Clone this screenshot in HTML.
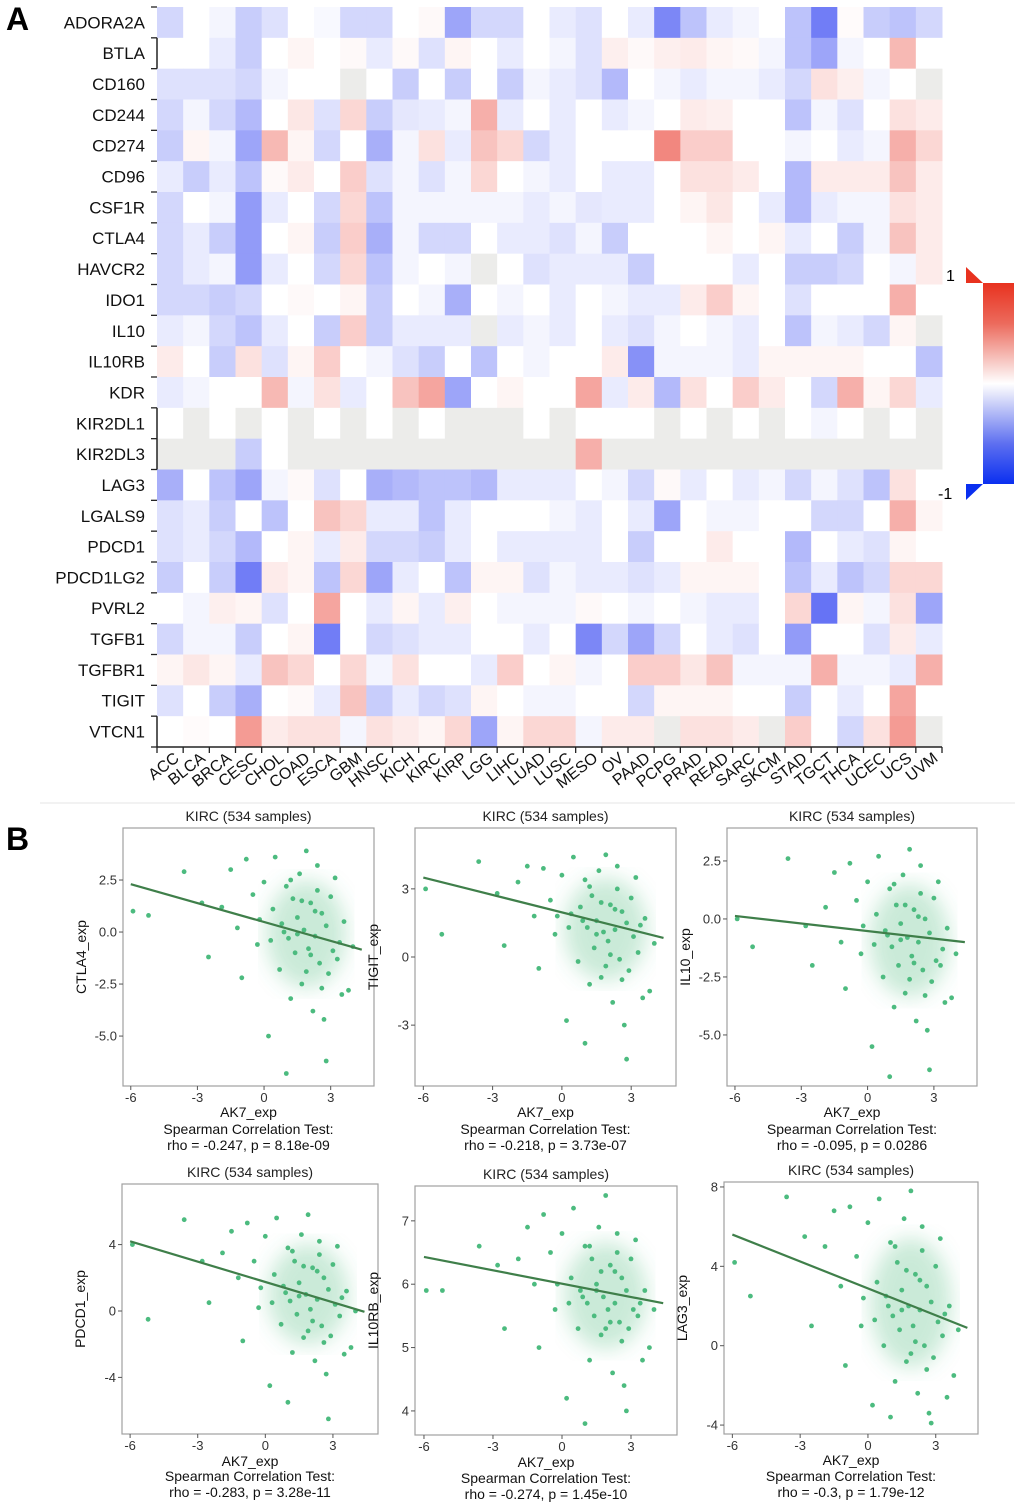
<!DOCTYPE html>
<html><head><meta charset="utf-8">
<style>
html,body{margin:0;padding:0;background:#fff;}
svg{display:block;font-family:"Liberation Sans",Arial,sans-serif;}
</style></head>
<body>
<svg id="fig" width="1020" height="1510" viewBox="0 0 1020 1510" xmlns="http://www.w3.org/2000/svg">
<defs>
<linearGradient id="cbar" x1="0" y1="0" x2="0" y2="1">
<stop offset="0" stop-color="#e8321f"/>
<stop offset="0.2" stop-color="#ec6a5c"/>
<stop offset="0.45" stop-color="#fbe6e4"/>
<stop offset="0.5" stop-color="#ffffff"/>
<stop offset="0.55" stop-color="#e6e8fb"/>
<stop offset="0.8" stop-color="#5d6ff0"/>
<stop offset="1" stop-color="#0a2ff0"/>
</linearGradient>
<filter id="blur"><feGaussianBlur stdDeviation="10"/></filter>
</defs>
<text x="6" y="30" font-size="32" font-weight="bold">A</text>
<text x="6" y="850" font-size="32" font-weight="bold">B</text>
<line x1="40" y1="803" x2="1015" y2="803" stroke="#eeeeee" stroke-width="1.5"/>
<g id="heat"></g>
<g>
<rect x="983" y="283" width="31" height="201" fill="url(#cbar)"/>
<polygon points="966,267 983,283 966,283" fill="#e8321f"/>
<polygon points="966,484 983,484 966,500" fill="#0a2ff0"/>
<text x="946" y="281" font-size="16">1</text>
<text x="938" y="499" font-size="16">-1</text>
</g>
<g id="scatters"></g>
</svg>
<script>
const NS='http://www.w3.org/2000/svg';
function mk(tag,attrs,parent){const e=document.createElementNS(NS,tag);for(const k in attrs)e.setAttribute(k,attrs[k]);parent.appendChild(e);return e;}

const genes=['ADORA2A','BTLA','CD160','CD244','CD274','CD96','CSF1R','CTLA4','HAVCR2','IDO1','IL10','IL10RB','KDR','KIR2DL1','KIR2DL3','LAG3','LGALS9','PDCD1','PDCD1LG2','PVRL2','TGFB1','TGFBR1','TIGIT','VTCN1'];
const cancers=['ACC','BLCA','BRCA','CESC','CHOL','COAD','ESCA','GBM','HNSC','KICH','KIRC','KIRP','LGG','LIHC','LUAD','LUSC','MESO','OV','PAAD','PCPG','PRAD','READ','SARC','SKCM','STAD','TGCT','THCA','UCEC','UCS','UVM'];
const N=null;
const heatValues=[
[-.2,0,-.05,-.25,-.15,0,-.03,-.2,-.2,0,.03,-.45,-.2,-.2,0,-.1,-.15,0,-.1,-.6,-.3,-.1,-.05,0,-.3,-.65,.02,-.25,-.3,-.2],
[0,0,-.1,-.25,0,.05,0,.03,-.1,.03,-.15,.05,0,-.1,0,-.05,-.15,.08,.03,.08,.1,.05,.03,-.05,-.3,-.45,-.05,0,.35,0],
[-.15,-.15,-.15,-.2,-.05,0,0,N,0,-.25,0,-.25,0,-.25,-.05,-.1,-.15,-.35,0,-.05,-.1,-.05,-.05,-.1,-.2,.15,.08,-.05,0,N],
[-.2,-.05,-.2,-.35,0,.12,-.15,.2,-.25,-.12,-.1,-.05,.4,-.1,0,-.1,0,-.1,-.05,0,.1,.08,0,0,-.3,-.05,-.15,0,.15,.1],
[-.25,.05,-.05,-.45,.35,.05,-.2,0,-.4,-.05,.15,-.1,.3,.2,-.2,-.1,0,0,0,.6,.25,.25,0,0,-.05,0,-.1,-.05,.4,.2],
[-.1,-.25,-.1,-.3,.03,.1,0,.25,-.15,-.05,-.15,-.05,.2,0,-.05,-.1,0,-.1,-.1,0,.15,.15,.1,0,-.35,.1,.1,.1,.3,.1],
[-.2,0,-.05,-.5,-.1,0,-.2,.2,-.3,-.05,-.05,-.05,-.05,-.05,-.1,-.05,-.12,-.1,-.1,0,.05,.12,0,-.1,-.35,-.1,-.05,-.05,.15,.1],
[-.2,-.1,-.25,-.5,0,.05,-.25,.25,-.4,-.05,-.2,-.2,0,-.1,-.1,-.15,-.05,-.25,0,0,0,.05,0,.05,-.1,0,-.25,-.05,.3,.1],
[-.2,-.1,-.05,-.5,-.1,0,-.2,.2,-.3,-.05,0,-.05,N,0,-.15,-.1,-.1,-.1,-.25,0,0,0,-.1,0,-.25,-.25,-.2,0,-.05,.1],
[-.2,-.2,-.25,-.2,0,.03,0,.05,-.25,0,-.05,-.4,0,-.05,0,-.1,0,-.05,-.1,-.1,.1,.25,.05,0,-.15,0,0,0,.4,0],
[-.1,-.05,-.2,-.3,-.1,0,-.25,.25,-.25,-.1,-.1,-.1,N,-.1,-.05,-.1,0,-.1,-.15,-.05,0,-.05,-.1,0,-.3,-.05,-.1,-.2,.05,N],
[.1,0,-.25,.15,-.15,.05,.25,0,-.05,-.15,-.25,0,-.3,0,-.05,0,0,.1,-.55,-.05,-.05,-.05,-.1,.05,.05,.05,.05,0,0,-.3],
[-.1,-.05,0,0,.35,-.05,.15,-.1,0,.3,.45,-.45,0,.05,0,0,.45,-.1,.1,-.35,.15,0,.25,.1,0,-.2,.4,.05,.2,-.1],
[0,N,0,N,0,N,0,N,0,N,0,N,N,N,0,N,0,0,0,N,0,N,0,N,0,-.05,0,N,0,N],
[N,N,N,-.25,0,N,N,N,N,N,N,N,N,N,N,N,.4,N,N,N,N,N,N,N,N,N,N,N,N,N],
[-.4,0,-.3,-.45,-.05,.03,-.15,0,-.4,-.35,-.3,-.3,-.35,-.1,-.1,-.1,0,-.05,-.2,.03,-.1,0,-.1,-.05,-.2,-.05,-.15,-.3,.15,0],
[-.15,-.1,-.25,0,-.3,0,.3,.2,-.1,-.1,-.3,-.1,0,0,0,-.05,-.1,0,-.1,-.45,0,-.05,-.05,0,0,-.2,-.2,0,.4,.05],
[-.15,-.1,-.2,-.35,0,.05,-.1,.1,-.2,-.2,-.25,-.1,0,-.1,-.1,-.1,-.1,0,-.25,0,0,.1,0,0,-.35,0,-.1,-.15,.05,0],
[-.25,0,-.25,-.65,.1,.05,-.3,.2,-.45,-.1,0,-.3,.05,.05,-.15,-.05,-.1,-.1,-.15,-.1,.05,.05,.05,0,-.3,-.1,-.3,-.2,.2,.2],
[0,-.05,.08,.05,-.15,0,.45,0,-.1,.05,-.1,.08,0,-.05,-.05,-.05,.03,0,-.05,0,-.05,-.1,-.1,0,.2,-.7,.05,-.05,.15,-.45],
[-.2,-.05,-.05,-.25,0,.05,-.65,0,-.2,-.15,-.1,-.1,0,0,-.1,0,-.6,-.2,-.45,-.2,0,-.1,-.15,0,-.5,0,0,-.15,.1,-.1],
[.05,.12,.05,-.1,.3,.2,0,.2,-.05,.15,0,0,-.1,.25,0,.05,-.05,0,.25,.25,.12,.3,-.05,-.05,-.05,.4,-.05,-.05,-.1,.4],
[-.15,0,-.25,-.4,0,.03,-.1,.3,-.25,-.1,-.2,-.15,.05,0,-.05,-.05,0,0,-.2,.05,.05,.05,0,0,-.25,0,-.1,0,.45,0],
[0,.02,0,.5,.1,.15,.15,-.05,.15,.1,.05,.2,-.45,.05,.2,.2,-.05,.1,.1,N,.15,.15,.1,N,.25,0,-.2,.15,.5,N]
];

const hx0=157,hx1=942,hy0=7,hy1=747;
const cw=(hx1-hx0)/cancers.length, rh=(hy1-hy0)/genes.length;
function colX(i){return hx0+i*cw;}
function rowY(j){return hy0+j*rh;}
function heatColor(v){
  if(v===null) return '#ececea';
  const t=Math.min(1,Math.abs(v)*0.95);
  const end=v>=0?[232,45,30]:[25,45,240];
  const c=end.map(e=>Math.round(255+(e-255)*t));
  return 'rgb('+c.join(',')+')';
}
const heat=document.getElementById('heat');
heatValues.forEach((row,j)=>{
  row.forEach((v,i)=>{
    const r=mk('rect',{x:colX(i).toFixed(2),y:rowY(j).toFixed(2),width:(cw+0.5).toFixed(2),height:(rh+0.5).toFixed(2),fill:heatColor(v)},heat);
    
    
  });
});
genes.forEach((g,j)=>{
  const cy=rowY(j)+rh/2;
  const t=mk('text',{x:145,y:(cy+6).toFixed(1),'font-size':17,'text-anchor':'end',fill:'#111'},heat);
  t.textContent=g;
  
  
});
for(let j=0;j<=genes.length;j++){
  const tk=mk('line',{x1:151,x2:157,y1:rowY(j),y2:rowY(j),stroke:'#222','stroke-width':1.3},heat);
  
  
}
[[1,2],[13,15],[23,24]].forEach(b=>{
  const ln=mk('line',{x1:157,x2:157,y1:rowY(b[0]),y2:rowY(b[1]),stroke:'#222','stroke-width':1.5},heat);
  
  
});
const xa=mk('line',{x1:hx0,x2:hx1,y1:hy1,y2:hy1,stroke:'#222','stroke-width':1.5},heat);


for(let i=0;i<=cancers.length;i++){
  const tk=mk('line',{x1:colX(i),x2:colX(i),y1:hy1,y2:hy1+6,stroke:'#222','stroke-width':1.3},heat);
  
  
}
cancers.forEach((c,i)=>{
  const x=colX(i)+cw/2+10, y=hy1+13;
  const t=mk('text',{x:x.toFixed(1),y:y,'font-size':16,'text-anchor':'end',transform:'rotate(-38 '+x.toFixed(1)+' '+y+')',fill:'#111'},heat);
  t.textContent=c;
  
  
});

const ak7X=[-5.9,-5.2,-3.6,-2.8,-2.5,-1.9,-1.5,-1.2,-1.0,-0.8,-0.5,-0.3,0,0.2,0.4,0.5,0.7,0.8,1.0,1.1,1.2,1.3,1.4,1.5,1.6,1.7,1.8,1.9,2.0,2.1,2.2,2.3,2.4,2.5,2.6,2.7,2.8,2.9,3.0,3.1,3.2,3.3,3.4,3.6,3.8,4.0,1.5,1.9,2.3,0.9,2.6,1.2,2.8,0.3,1.7,2.1,3.5,-0.2,1.0,2.4];
const ctla4Y=[1.0,0.8,2.9,1.4,-1.2,1.2,3.0,0.2,-2.2,3.5,1.8,-0.6,2.4,-5.0,1.1,3.6,-1.8,0.4,2.2,-0.3,-3.2,1.6,-1.0,0.7,2.8,-2.5,0.1,3.9,-0.8,1.4,-3.8,-0.2,2.0,-1.5,0.9,-4.2,0.3,-2.0,1.7,-0.9,2.6,-1.3,-0.5,0.5,-2.8,-0.7,-0.1,-1.9,1.0,0.0,-2.7,2.5,-6.2,-0.4,1.5,-1.1,-3.0,0.6,-6.8,3.2];
const tigitY=[3.0,1.0,4.2,2.8,0.5,3.3,4.0,1.8,-0.5,3.9,2.5,1.0,3.6,-2.8,1.9,4.4,-0.2,2.2,3.4,1.3,-1.2,2.7,0.4,1.6,3.8,-0.9,1.1,4.5,0.7,2.3,-2.0,1.2,3.0,-0.1,2.0,-3.0,1.5,-0.6,2.6,0.9,3.5,0.2,1.4,1.7,-1.5,0.6,1.0,-0.4,2.1,1.6,-1.0,3.1,-4.5,1.3,2.4,0.1,-1.8,1.8,-3.8,4.0];
const il10Y=[0.0,-1.2,2.6,-0.3,-2.0,0.5,2.0,-1.0,-3.0,2.4,0.8,-1.5,1.6,-5.5,0.2,2.7,-2.5,-0.5,1.3,-1.2,-3.8,0.6,-2.0,-0.2,1.9,-3.2,-0.8,3.0,-1.6,0.4,-4.4,-1.0,1.1,-2.2,0.0,-4.8,-0.6,-2.7,0.9,-1.8,1.6,-2.0,-1.3,-0.4,-3.4,-1.5,-0.9,-2.6,0.1,-0.7,-3.3,1.5,-6.5,-1.1,0.6,-1.9,-3.6,-0.3,-6.8,2.3];
const pdcd1Y=[4.0,-0.5,5.5,3.0,0.5,3.5,4.8,2.0,-1.8,5.3,3.0,0.2,4.5,-4.5,2.2,5.6,-0.8,1.5,3.8,0.6,-2.5,3.0,-0.2,1.7,4.6,-1.6,1.0,5.8,0.1,2.6,-3.0,0.7,3.4,-0.9,2.0,-3.8,1.3,-1.5,2.8,0.4,3.9,-0.3,0.8,1.2,-2.2,0.0,0.9,-1.2,2.4,1.1,-1.9,3.6,-6.5,0.5,2.7,-0.6,-2.6,1.4,-5.5,4.2];
const il10rbY=[5.9,5.9,6.6,6.3,5.3,6.4,6.9,6.0,5.0,7.1,6.5,5.6,6.8,4.2,6.1,7.2,5.3,5.9,6.6,5.7,4.8,6.4,5.5,6.0,6.9,5.2,5.8,7.4,5.6,6.3,4.6,5.7,6.5,5.4,6.1,4.4,5.9,5.3,6.4,5.6,6.7,5.5,5.7,5.9,5.0,5.6,5.9,5.3,6.2,5.8,5.1,6.6,4.0,5.7,6.2,5.4,4.8,6.0,3.8,6.8];
const lag3Y=[4.2,2.5,7.5,5.5,1.0,5.0,6.8,3.0,-1.0,7.0,4.5,1.0,6.2,-3.0,3.2,7.4,0.0,2.5,5.2,1.5,-1.8,4.2,0.8,2.8,6.4,-0.8,2.0,7.8,1.0,3.6,-2.4,1.8,4.8,0.0,3.0,-3.4,2.2,-0.6,4.0,1.2,5.4,0.5,1.6,2.0,-1.5,0.8,1.8,-0.4,3.3,2.0,-1.2,5.0,-3.9,1.3,3.8,0.2,-2.6,2.4,-3.6,6.0];
const fitLineX=[-6,4.4];
const fitCTLA4=[2.3,-0.85];
const fitTIGIT=[3.5,0.84];
const fitIL10=[0.13,-1.0];
const fitPDCD1=[4.2,-0.05];
const fitIL10RB=[6.43,5.7];
const fitLAG3=[5.6,0.9];
const xTickVals=[-6,-3,0,3];
const ctla4Ticks=[-5,-2.5,0,2.5], ctla4TickLabels=['-5.0','-2.5','0.0','2.5'];
const tigitTicks=[-3,0,3], tigitTickLabels=['-3','0','3'];
const il10Ticks=[-5,-2.5,0,2.5], il10TickLabels=['-5.0','-2.5','0.0','2.5'];
const pdcd1Ticks=[-4,0,4], pdcd1TickLabels=['-4','0','4'];
const il10rbTicks=[4,5,6,7], il10rbTickLabels=['4','5','6','7'];
const lag3Ticks=[-4,0,4,8], lag3TickLabels=['-4','0','4','8'];
const statLines=['rho = -0.247, p = 8.18e-09','rho = -0.218, p = 3.73e-07','rho = -0.095, p = 0.0286','rho = -0.283, p = 3.28e-11','rho = -0.274, p = 1.45e-10','rho = -0.3, p = 1.79e-12'];

const panels=[
 {gene:'CTLA4',ys:ctla4Y,fit:fitCTLA4,ticks:ctla4Ticks,tl:ctla4TickLabels,box:[123,828,374,1086],xd:[-6.35,4.95],yd:[-7.4,5.0],off:[31,48,64]},
 {gene:'TIGIT',ys:tigitY,fit:fitTIGIT,ticks:tigitTicks,tl:tigitTickLabels,box:[415,828,676,1086],xd:[-6.36,4.94],yd:[-5.68,5.68],off:[31,48,64]},
 {gene:'IL10',ys:il10Y,fit:fitIL10,ticks:il10Ticks,tl:il10TickLabels,box:[727,828,977,1086],xd:[-6.36,4.95],yd:[-7.2,3.92],off:[31,48,64]},
 {gene:'PDCD1',ys:pdcd1Y,fit:fitPDCD1,ticks:pdcd1Ticks,tl:pdcd1TickLabels,box:[122,1184,378,1434],xd:[-6.36,5.0],yd:[-7.41,7.65],off:[32,47,63]},
 {gene:'IL10RB',ys:il10rbY,fit:fitIL10RB,ticks:il10rbTicks,tl:il10rbTickLabels,box:[415,1186,677,1435],xd:[-6.39,5.0],yd:[3.62,7.55],off:[32,48,64]},
 {gene:'LAG3',ys:lag3Y,fit:fitLAG3,ticks:lag3Ticks,tl:lag3TickLabels,box:[724,1182,978,1434],xd:[-6.37,4.87],yd:[-4.45,8.25],off:[31,47,63]}
];
const sc=document.getElementById('scatters');
panels.forEach((p,k)=>{
  const [l,t,r,b]=p.box;
  const sx=v=>l+(v-p.xd[0])/(p.xd[1]-p.xd[0])*(r-l);
  const sy=v=>b-(v-p.yd[0])/(p.yd[1]-p.yd[0])*(b-t);
  const name=p.gene.toLowerCase();
  const g=mk('g',{},sc);
  
  
  const title=mk('text',{x:(l+r)/2,y:t-7,'font-size':14,'text-anchor':'middle',fill:'#222'},g);
  title.textContent='KIRC (534 samples)';
  
  
  const frame=mk('rect',{x:l,y:t,width:r-l,height:b-t,fill:'#fff',stroke:'#a0a0a0','stroke-width':1.2},g);
  
  
  const n=p.ys.length;
  let mx=0,my=0;for(let i=0;i<n;i++){mx+=ak7X[i];my+=p.ys[i];}mx/=n;my/=n;
  let vy=0;for(let i=0;i<n;i++){vy+=(p.ys[i]-my)**2;}const sdy=Math.sqrt(vy/n);
  const halo=mk('ellipse',{cx:sx(mx+0.8),cy:sy(my),rx:Math.abs(sx(1.8)-sx(0)),ry:Math.abs(sy(0)-sy(sdy*1.1)),fill:'#4cbb7f','fill-opacity':0.3,filter:'url(#blur)'},g);
  
  
  for(let i=0;i<n;i++){
    const c=mk('circle',{cx:sx(ak7X[i]).toFixed(1),cy:sy(p.ys[i]).toFixed(1),r:2.4,fill:'#4cbb7f'},g);
    
    
  }
  const ln=mk('line',{x1:sx(fitLineX[0]),y1:sy(p.fit[0]),x2:sx(fitLineX[1]),y2:sy(p.fit[1]),stroke:'#3f7f4a','stroke-width':2.2},g);
  
  
  xTickVals.forEach(v=>{
    const tk=mk('line',{x1:sx(v),x2:sx(v),y1:b,y2:b+4,stroke:'#555'},g);
    
    
    const tx=mk('text',{x:sx(v),y:b+16,'font-size':13,'text-anchor':'middle',fill:'#333'},g);
    tx.textContent=String(v);
    
    
  });
  p.ticks.forEach((v,i)=>{
    const tk=mk('line',{x1:l-4,x2:l,y1:sy(v),y2:sy(v),stroke:'#555'},g);
    
    
    const tx=mk('text',{x:l-6,y:sy(v)+4.5,'font-size':13,'text-anchor':'end',fill:'#333'},g);
    tx.textContent=p.tl[i];
    
    
  });
  const yl=l-37, ym=(t+b)/2;
  const yt=mk('text',{x:yl,y:ym,'font-size':14,'text-anchor':'middle',transform:'rotate(-90 '+yl+' '+ym+')',fill:'#111'},g);
  yt.textContent=p.gene+'_exp';
  
  
  const cx=(l+r)/2;
  const xt=mk('text',{x:cx,y:b+p.off[0],'font-size':14,'text-anchor':'middle',fill:'#111'},g);
  xt.textContent='AK7_exp';
  
  
  const s1=mk('text',{x:cx,y:b+p.off[1],'font-size':14,'text-anchor':'middle',fill:'#111'},g);
  s1.textContent='Spearman Correlation Test:';
  
  
  const s2=mk('text',{x:cx,y:b+p.off[2],'font-size':14,'text-anchor':'middle',fill:'#111'},g);
  s2.textContent=statLines[k];
  
  
});
</script>
</body></html>
